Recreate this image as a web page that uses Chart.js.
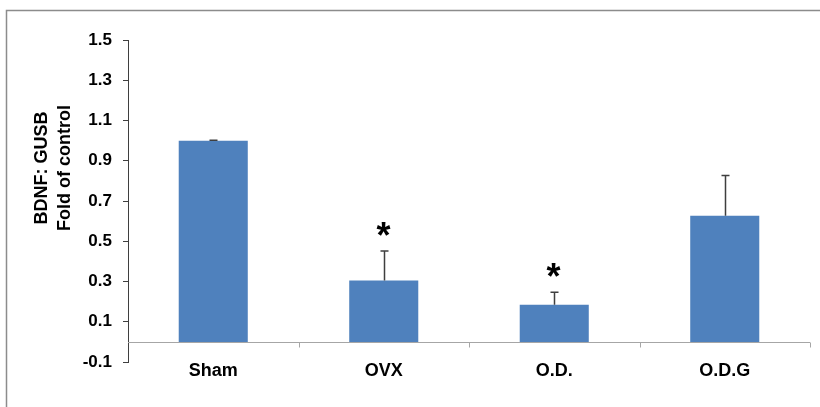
<!DOCTYPE html>
<html>
<head>
<meta charset="utf-8">
<script src="https://cdn.jsdelivr.net/npm/chart.js@4.4.1/dist/chart.umd.min.js"></script>
<style>
  html, body { margin: 0; padding: 0; background: #fff; }
  #wrap { position: relative; width: 820px; height: 407px; }
</style>
</head>
<body>
<div id="wrap"><canvas id="c" width="820" height="407"></canvas></div>
<script>
// Groups and measured BDNF:GUSB expression (fold of control)
const groups = ['Sham', 'OVX', 'O.D.', 'O.D.G'];
const foldOfControl = [1.0, 0.305, 0.185, 0.627];
const sem = [0.002, 0.147, 0.062, 0.2];
const significance = ['', '*', '*', ''];

// Y axis range and tick spacing
const yMin = -0.1;
const yMax = 1.5;
const yStep = 0.2;

const FONT = "'Liberation Sans', Arial, sans-serif";
const AXIS_DARK = '#3f3f3f';
const AXIS_LIGHT = '#a6a6a6';

// Frame, zero baseline, category tick marks, error bars, asterisks, axis title
const decorations = {
  id: 'decorations',
  beforeDraw(chart) {
    const ctx = chart.ctx;
    ctx.save();
    ctx.strokeStyle = '#8c8c8c';
    ctx.lineWidth = 1.5;
    ctx.beginPath();
    ctx.moveTo(6.5, 407);
    ctx.lineTo(6.5, 10.5);
    ctx.lineTo(820, 10.5);
    ctx.stroke();
    ctx.restore();
  },
  afterDatasetsDraw(chart) {
    const ctx = chart.ctx;
    const x = chart.scales.x;
    const y = chart.scales.y;
    const area = chart.chartArea;
    const y0 = Math.round(y.getPixelForValue(0)) + 0.5;

    ctx.save();
    // baseline at zero
    ctx.strokeStyle = AXIS_LIGHT;
    ctx.lineWidth = 1;
    ctx.beginPath();
    ctx.moveTo(area.left, y0);
    ctx.lineTo(area.right, y0);
    ctx.stroke();

    // tick marks between categories
    const half = (x.getPixelForValue(1) - x.getPixelForValue(0)) / 2;
    ctx.beginPath();
    for (let i = 0; i < groups.length; i++) {
      const px = Math.round(x.getPixelForValue(i) + half) + 0.5;
      ctx.moveTo(px, y0);
      ctx.lineTo(px, y0 + 5);
    }
    ctx.stroke();

    // error bars (upper) and significance markers
    const meta = chart.getDatasetMeta(0);
    meta.data.forEach((bar, i) => {
      const cx = Math.round(bar.x) + 0.5;
      const top = y.getPixelForValue(foldOfControl[i] + sem[i]);
      const base = y.getPixelForValue(foldOfControl[i]);
      ctx.strokeStyle = AXIS_DARK;
      ctx.lineWidth = 1.5;
      ctx.beginPath();
      ctx.moveTo(cx, base);
      ctx.lineTo(cx, top);
      ctx.moveTo(cx - 4, top);
      ctx.lineTo(cx + 4, top);
      ctx.stroke();
      if (significance[i]) {
        ctx.fillStyle = '#000';
        ctx.font = 'bold 36px ' + FONT;
        ctx.textAlign = 'center';
        ctx.textBaseline = 'middle';
        ctx.fillText(significance[i], cx - 1, top - 13);
      }
    });

    // two-line y axis title
    ctx.fillStyle = '#000';
    ctx.font = 'bold 18px ' + FONT;
    ctx.textAlign = 'center';
    ctx.textBaseline = 'middle';
    ctx.translate(0, 168);
    ctx.rotate(-Math.PI / 2);
    ctx.fillText('BDNF: GUSB', 0, 42);
    ctx.fillText('Fold of control', 0, 65);
    ctx.restore();
  }
};

new Chart(document.getElementById('c'), {
  type: 'bar',
  data: {
    labels: groups,
    datasets: [{
      data: foldOfControl,
      backgroundColor: '#4f81bd',
      borderWidth: 0,
      barPercentage: 0.405,
      categoryPercentage: 1.0
    }]
  },
  options: {
    responsive: false,
    animation: false,
    events: [],
    layout: { padding: { top: 40, right: 10, left: 0, bottom: 0 } },
    plugins: { legend: { display: false }, tooltip: { enabled: false }, title: { display: false } },
    scales: {
      x: {
        grid: { display: false, drawTicks: false },
        border: { display: false },
        ticks: {
          color: '#000',
          font: { family: FONT, size: 18, weight: 'bold' },
          padding: -2,
          maxRotation: 0
        },
        afterFit(scale) { scale.height = 45; }
      },
      y: {
        min: yMin,
        max: yMax,
        grid: { drawOnChartArea: false, color: AXIS_DARK, tickLength: 5, lineWidth: 1 },
        border: { display: true, color: AXIS_DARK, width: 1 },
        ticks: {
          stepSize: yStep,
          color: '#000',
          font: { family: FONT, size: 17, weight: 'bold' },
          padding: 11,
          callback: (v) => Number(v).toFixed(1)
        },
        afterFit(scale) { scale.width = 128; }
      }
    }
  },
  plugins: [decorations]
});
</script>
</body>
</html>
